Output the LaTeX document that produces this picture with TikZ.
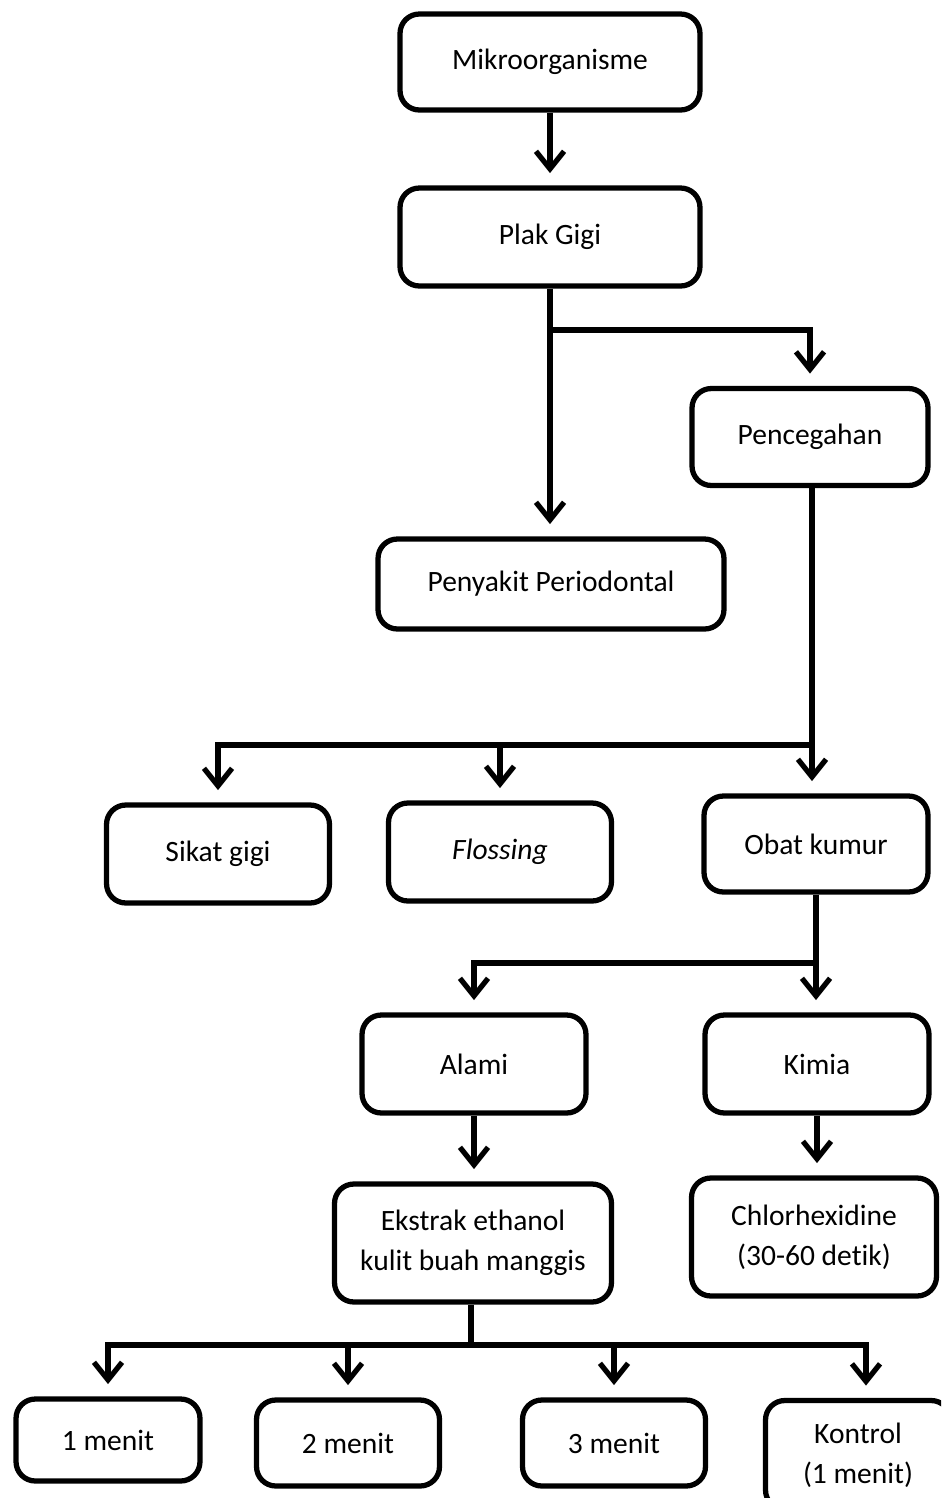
\documentclass[tikz,border=0pt]{standalone}
\usepackage{fontspec}
\setmainfont[RawFeature=-liga]{Carlito}
\usetikzlibrary{arrows.meta}

\begin{document}
\begin{tikzpicture}[x=0.02cm, y=-0.02cm, font=\fontsize{16.8}{22.7}\selectfont,
    blok/.style={draw, line width=3pt, rounded corners=11pt, align=center, inner sep=0pt},
    garis/.style={line width=3pt},
    panah/.style={garis, -{Straight Barb[length=10pt,width=16pt]}, shorten >=7pt}]

    \useasboundingbox (0,0) rectangle (941,1498);
    \clip (0,0) rectangle (941,1498);

    % kotak
    \node[blok, minimum width=6.0cm, minimum height=1.92cm] (mikro) at (550,62) {Mikroorganisme};
    \node[blok, minimum width=6.0cm, minimum height=1.96cm] (plak) at (550,237) {Plak Gigi};
    \node[blok, minimum width=4.72cm, minimum height=1.94cm] (cegah) at (810,437) {Pencegahan};
    \node[blok, minimum width=6.92cm, minimum height=1.8cm] (penyakit) at (551,584) {Penyakit Periodontal};
    \node[blok, minimum width=4.46cm, minimum height=1.96cm] (sikat) at (218,854) {Sikat gigi};
    \node[blok, minimum width=4.46cm, minimum height=1.96cm] (floss) at (500,852) {\textit{Flossing}};
    \node[blok, minimum width=4.48cm, minimum height=1.92cm] (obat) at (816,844) {Obat kumur};
    \node[blok, minimum width=4.48cm, minimum height=1.96cm] (alami) at (474,1064) {Alami};
    \node[blok, minimum width=4.48cm, minimum height=1.96cm] (kimia) at (817,1064) {Kimia};
    \node[blok, minimum width=5.54cm, minimum height=2.36cm] (ekstrak) at (473,1243) {Ekstrak ethanol\\kulit buah manggis};
    \node[blok, minimum width=4.9cm, minimum height=2.36cm] (chlor) at (814,1237) {Chlorhexidine\\(30-60 detik)};
    \node[blok, minimum width=3.68cm, minimum height=1.64cm] (menit1) at (108,1440) {1 menit};
    \node[blok, minimum width=3.66cm, minimum height=1.72cm] (menit2) at (348,1443) {2 menit};
    \node[blok, minimum width=3.66cm, minimum height=1.72cm] (menit3) at (614,1443) {3 menit};
    \node[blok, minimum width=3.7cm, minimum height=2.18cm] (kontrol) at (858,1455) {Kontrol\\(1 menit)};

    % titik cabang
    \coordinate (cab1) at (550,330);
    \coordinate (cab2) at (812,745);
    \coordinate (cab3) at (816,963);
    \coordinate (cab4) at (471,1345);

    % panah
    \draw[panah] (mikro) -- (plak);
    \draw[panah] (plak) -- (plak |- penyakit.north);
    \draw[panah] (cab1) -| (cegah);

    \draw[garis] (cegah.south -| cab2) -- (cab2);
    \draw[panah] (cab2) -| (sikat);
    \draw[panah] (cab2) -| (floss);
    \draw[panah] (cab2) -- (cab2 |- obat.north);

    \draw[garis] (obat) -- (cab3);
    \draw[panah] (cab3) -| (alami);
    \draw[panah] (cab3) -- (cab3 |- kimia.north);

    \draw[panah] (alami) -- (alami |- ekstrak.north);
    \draw[panah] (kimia) -- (kimia |- chlor.north);

    \draw[garis] (ekstrak.south -| cab4) -- (cab4);
    \draw[panah] (cab4) -| (menit1);
    \draw[panah] (cab4) -| (menit2);
    \draw[panah] (cab4) -| (menit3);
    \draw[panah] (cab4) -| ([xshift=0.16cm]kontrol.north);
\end{tikzpicture}
\end{document}
